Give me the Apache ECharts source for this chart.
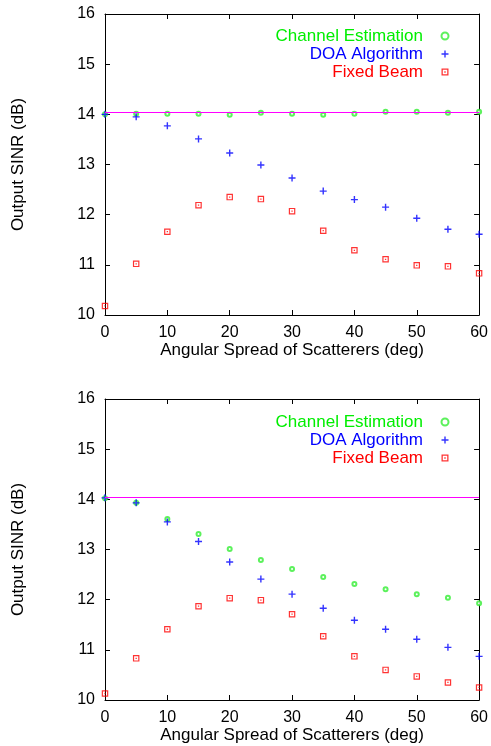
<!DOCTYPE html>
<html><head><meta charset="utf-8">
<script src="https://cdn.jsdelivr.net/npm/echarts@6/dist/echarts.min.js"></script>
<style>html,body{margin:0;padding:0;background:#fff}#c{width:491px;height:746px}</style>
</head><body><div id="c"></div>
<script>
// ---- data ----
const angles = [0, 5, 10, 15, 20, 25, 30, 35, 40, 45, 50, 55, 60];
const xTicks = [0, 10, 20, 30, 40, 50, 60];
const yTicks = [10, 11, 12, 13, 14, 15, 16];
const seriesNames = ['Channel Estimation', 'DOA Algorithm', 'Fixed Beam'];

const topChannel = [14.00, 14.01, 14.01, 14.01, 13.99, 14.03, 14.01, 13.99, 14.01, 14.05, 14.05, 14.03, 14.05];
const topDOA     = [14.00, 13.95, 13.77, 13.51, 13.23, 12.99, 12.73, 12.47, 12.30, 12.15, 11.93, 11.71, 11.61];
const topFixed   = [10.18, 11.02, 11.66, 12.19, 12.35, 12.31, 12.07, 11.68, 11.29, 11.11, 10.99, 10.97, 10.83];

const botChannel = [14.02, 13.93, 13.61, 13.31, 13.01, 12.79, 12.61, 12.45, 12.31, 12.21, 12.11, 12.04, 11.93];
const botDOA     = [14.03, 13.93, 13.55, 13.16, 12.75, 12.41, 12.11, 11.83, 11.59, 11.41, 11.21, 11.05, 10.87];
const botFixed   = [10.13, 10.83, 11.41, 11.87, 12.03, 11.99, 11.71, 11.27, 10.87, 10.60, 10.47, 10.35, 10.25];

const referenceLevel = 14.05;

// ---- styling ----
const FONT = '"Liberation Sans", Arial, Helvetica, sans-serif';
const colors = ['#33ee33', '#0000ff', '#ff0000'];
const textColors = ['#00ee00', '#0000ff', '#ff0000'];
const plusPath = 'path://M2.4,0 H3.6 V2.4 H6 V3.6 H3.6 V6 H2.4 V3.6 H0 V2.4 H2.4 Z';
const squarePath = 'path://M0,0 H6 V6 H0 Z M1.1,1.1 V4.9 H4.9 V1.1 Z M2.4,2.4 H3.6 V3.6 H2.4 Z';
const symbols = ['emptyCircle', plusPath, squarePath];
const symbolSizes = [4, 7, 6.5];

const pairs = vals => angles.map((a, i) => [a, vals[i]]);

const grids = [
  {left: 105, right: 11, top: 14, height: 301},
  {left: 105, right: 11, top: 399, height: 301}
];
const legendTops = [22, 408];
const plotData = [[topChannel, topDOA, topFixed], [botChannel, botDOA, botFixed]];

const xAxes = [], yAxes = [], series = [], legends = [];
grids.forEach((g, gi) => {
  const axisLine = {show: true, onZero: false, lineStyle: {color: '#000', width: 1}};
  const axisTick = {show: true, inside: true, length: 5, lineStyle: {color: '#000'}};
  xAxes.push({
    gridIndex: gi, type: 'value', position: 'bottom',
    min: xTicks[0], max: xTicks[xTicks.length - 1], interval: xTicks[1] - xTicks[0],
    axisLine, axisTick, splitLine: {show: false},
    axisLabel: {fontFamily: FONT, fontSize: 16, color: '#000', margin: 10},
    name: 'Angular Spread of Scatterers (deg)', nameLocation: 'middle', nameGap: 25,
    nameTextStyle: {fontFamily: FONT, fontSize: 17, color: '#000'}
  });
  xAxes.push({
    gridIndex: gi, type: 'value', position: 'top',
    min: xTicks[0], max: xTicks[xTicks.length - 1], interval: xTicks[1] - xTicks[0],
    axisLine, axisTick, splitLine: {show: false}, axisLabel: {show: false}
  });
  yAxes.push({
    gridIndex: gi, type: 'value', position: 'left',
    min: yTicks[0], max: yTicks[yTicks.length - 1], interval: yTicks[1] - yTicks[0],
    axisLine, axisTick, splitLine: {show: false},
    axisLabel: {fontFamily: FONT, fontSize: 16, color: '#000', margin: 10},
    name: 'Output SINR (dB)', nameLocation: 'middle', nameGap: 78,
    nameTextStyle: {fontFamily: FONT, fontSize: 17, color: '#000'}
  });
  yAxes.push({
    gridIndex: gi, type: 'value', position: 'right',
    min: yTicks[0], max: yTicks[yTicks.length - 1], interval: yTicks[1] - yTicks[0],
    axisLine, axisTick, splitLine: {show: false}, axisLabel: {show: false}
  });
  plotData[gi].forEach((vals, si) => {
    const s = {
      type: 'scatter', name: seriesNames[si],
      xAxisIndex: gi * 2, yAxisIndex: gi * 2,
      data: pairs(vals), symbol: symbols[si], symbolSize: symbolSizes[si],
      itemStyle: si === 0 ? {color: colors[si], borderWidth: 1} : {color: colors[si]},
      clip: false, silent: true, z: 3 + si
    };
    if (si === 0) {
      s.markLine = {
        silent: true, symbol: 'none', animation: false,
        label: {show: false},
        lineStyle: {color: '#ff00ff', type: 'solid', width: 1.2},
        data: [{yAxis: referenceLevel}]
      };
    }
    series.push(s);
  });
  legends.push({
    orient: 'vertical', align: 'right', right: 36.5, top: legendTops[gi],
    itemGap: 0, itemWidth: 7, itemHeight: 7, selectedMode: false,
    textStyle: {fontFamily: FONT, fontSize: 17, lineHeight: 18, padding: [0, 13.5, 0, 0]},
    data: seriesNames.map((n, i) => ({name: n, textStyle: {color: textColors[i]}}))
  });
});

const chart = echarts.init(document.getElementById('c'), null, {renderer: 'canvas'});
chart.setOption({
  animation: false,
  backgroundColor: '#fff',
  grid: grids,
  xAxis: xAxes,
  yAxis: yAxes,
  legend: legends,
  series
});
</script></body></html>
